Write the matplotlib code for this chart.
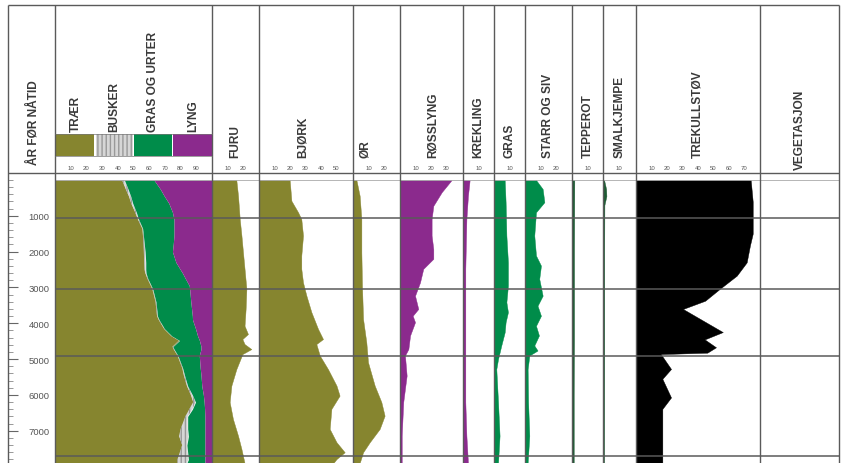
import matplotlib
matplotlib.use("Agg")
import matplotlib.pyplot as plt
import numpy as np
from matplotlib.patches import Rectangle
from matplotlib.ticker import MultipleLocator

plt.rcParams['font.family'] = ['Liberation Sans', 'DejaVu Sans']

# ---- data (prosent av pollensum, alder i år før nåtid) ----
alder_komp = [0, 250, 450, 650, 900, 1100, 1350, 1550, 1800, 2000, 2300, 2500, 2600, 2750,
              2950, 3050, 3400, 3800, 3900, 4150, 4350, 4480, 4650, 4720, 4900, 5250, 5450,
              5750, 6000, 6200, 6400, 6600, 6950, 7150, 7400, 7800, 7900]
traer = [42.7, 45, 47, 48.5, 51, 52.8, 55.5, 56, 56.4, 56.6, 56.8, 57, 57.5, 58.8,
         61, 62, 64, 65, 66, 69.4, 74, 79, 74.8, 75.5, 78, 81, 82,
         84, 86.5, 88, 85.5, 83, 80, 79, 81, 78, 78]
busker = [1.5, 1.5, 1.2, 1, 0.8, 0.5, 0.3, 0.3, 0.5, 0.8, 1, 0.8, 0.5, 0.3,
          0.3, 0.3, 0.3, 0.3, 0.3, 0.3, 0.3, 0.3, 0.3, 0.3, 0.3, 0.3, 0.5,
          0.5, 1, 1.5, 2, 1.5, 4.5, 6, 3, 7, 6]
gras_urter = [18.8, 20.5, 21.4, 23, 23, 22.5, 20, 19.5, 18.4, 17.4, 19.2, 22, 23.2, 23.9,
              24.2, 23.5, 22.2, 22.2, 21.3, 19.8, 16.5, 12.7, 17.9, 17.2, 13.6, 11.2, 10.5,
              9, 7, 5.5, 7.8, 11, 11, 10.5, 11.5, 10.5, 11.5]
lyng = [37, 33, 30.4, 27.5, 25.2, 24.2, 24.2, 24.2, 24.7, 25.2, 23, 20.2, 18.8, 17,
        14.5, 14.2, 13.5, 12.5, 12.4, 10.5, 9.2, 8, 7, 7, 8.1, 7.5, 7,
        6.5, 5.5, 5, 4.7, 4.5, 4.5, 4.5, 4.5, 4.5, 4.5]

furu_alder = [0, 440, 1090, 1550, 2020, 2480, 3040, 3600, 4070, 4300, 4440, 4580, 4720,
              4860, 5280, 5740, 6200, 6670, 7140, 7510, 7900]
furu = [15.7, 16.8, 17.9, 19, 20, 21, 22.2, 21.7, 21, 23.2, 19.6, 21, 25.4,
        19.6, 15.7, 12.5, 11.4, 13.5, 16.8, 19, 21]

bjork_alder = [0, 580, 900, 1090, 1550, 2110, 2480, 2860, 3230, 3690, 4160, 4440, 4580,
               4900, 5280, 5740, 6020, 6390, 6950, 7320, 7600, 7790, 7900]
bjork = [19.8, 20.9, 25.2, 27.3, 28.4, 27.3, 27.3, 28.4, 30.6, 33.8, 38.1, 41.3, 37,
         39.2, 44.5, 50, 52, 46.7, 45.6, 50, 55.3, 50, 48]

or_alder = [0, 440, 1090, 2020, 2950, 3880, 4530, 5090, 5740, 6200, 6580, 6950, 7320, 7600, 7900]
or_verdi = [2.2, 4.3, 5.4, 5.4, 5.8, 6.5, 8.6, 9.7, 14, 18.3, 20.4, 17.2, 10.8, 6.5, 4.3]

rosslyng_alder = [0, 340, 720, 1090, 1550, 1930, 2200, 2480, 2860, 3230, 3600, 3790, 3970,
                  4340, 4720, 4900, 5460, 6200, 7140, 7900]
rosslyng = [33.3, 26.9, 21.5, 20.4, 20.4, 21.5, 21.5, 15, 12.9, 9.7, 11.8, 8.2, 9.7,
            6.5, 5.4, 3.2, 4.3, 2.1, 1.1, 1.1]

krekling_alder = [0, 440, 1090, 2480, 6200, 7140, 7900]
krekling = [4.3, 3.2, 2.2, 1.5, 1.5, 2.2, 3.2]

gras_alder = [0, 620, 1550, 2300, 2950, 3410, 3690, 3970, 4250, 4620, 5000, 5280, 6200, 7140, 7900]
gras = [6.9, 7.5, 8, 9, 9, 8, 9, 7.5, 6.9, 4.7, 2.6, 1.5, 2.6, 3.6, 2.6]

starr_alder = [0, 250, 620, 900, 1550, 2110, 2390, 2760, 3230, 3510, 3790, 4070, 4340,
               4620, 4760, 4900, 5280, 6200, 7140, 7900]
starr = [7.1, 11.4, 12.5, 7.1, 6, 7.1, 10.3, 9.2, 11.4, 8.1, 10.3, 7.1, 9,
         6, 8.1, 2.8, 1.7, 2, 2.8, 1.7]

tepperot_alder = [0, 2000, 4500, 6000, 7900]
tepperot = [1.5, 1.3, 1.3, 1.1, 1.1]

smalkjempe_alder = [0, 250, 450, 700, 2000, 5000, 7900]
smalkjempe = [0.7, 2.0, 2.2, 0.9, 0.8, 0.8, 0.7]

trekull_alder = [0, 600, 1500, 1830, 2300, 2670, 3040, 3370, 3600, 4245, 4450, 4670, 4820,
                 4860, 5275, 5550, 6070, 6390, 7900]
trekull = [74, 75.3, 75.3, 73.5, 71.4, 65, 54, 44.6, 30.3, 56, 44.3, 51.6, 46,
           16, 22.6, 17, 22.6, 17, 17]

sone_grenser = [1070, 3045, 4905, 7695]
alder_ticks = [1000, 2000, 3000, 4000, 5000, 6000, 7000]

overskrifter = ['ÅR FØR NÅTID', 'TRÆR', 'BUSKER', 'GRAS OG URTER', 'LYNG', 'FURU', 'BJØRK',
                'ØR', 'RØSSLYNG', 'KREKLING', 'GRAS', 'STARR OG SIV', 'TEPPEROT',
                'SMALKJEMPE', 'TREKULLSTØV', 'VEGETASJON']

# ---- layout (pixels) ----
W, H = 841, 464
TOP, HEAD_BOT, DATA_TOP = 6, 174, 181
cols = [8, 55, 212, 259, 353, 400, 463, 494, 525, 572, 603, 636, 760, 839]
PX_PER_PCT = 1.55
AGE_MAX = 7900

OLIVE = '#86852f'
GREEN = '#008c4a'
PURPLE = '#8b2a8d'
LINE = '#5a5a5a'

fig = plt.figure(figsize=(W / 100, H / 100), dpi=100)


def px_axes(x0, x1, y0, y1):
    return fig.add_axes([x0 / W, 1 - y1 / H, (x1 - x0) / W, (y1 - y0) / H])


def data_axes(x0, x1, xmax=None, ticks=()):
    ax = px_axes(x0, x1, DATA_TOP, H)
    ax.set_ylim(AGE_MAX, 0)
    ax.set_xlim(0, xmax if xmax else (x1 - x0) / PX_PER_PCT)
    for s in ax.spines.values():
        s.set_visible(False)
    ax.patch.set_alpha(0)
    ax.set_yticks([])
    ax.xaxis.tick_top()
    ax.set_xticks(ticks)
    ax.set_xticklabels([str(t) for t in ticks])
    ax.tick_params(axis='x', length=0, pad=7, labelsize=4.3, labelcolor='#555555')
    for a in sone_grenser:
        ax.axhline(a, color=LINE, lw=1.1, zorder=4)
    ax.axhline(0, color='#aaaaaa', lw=0.6, zorder=4, clip_on=False)
    return ax


# age column
ax_age = px_axes(cols[0], cols[1], DATA_TOP, H)
ax_age.set_ylim(AGE_MAX, 0)
ax_age.set_xlim(0, 1)
ax_age.set_xticks([])
for s in ax_age.spines.values():
    s.set_visible(False)
ax_age.set_yticks(alder_ticks)
ax_age.yaxis.set_minor_locator(MultipleLocator(200))
ax_age.tick_params(axis='y', which='major', direction='in', length=7, width=0.8,
                   color='#666666', labelsize=6.8, labelcolor='#555555', pad=-30)
ax_age.tick_params(axis='y', which='minor', direction='in', length=3.5, width=0.6,
                   color='#888888')

# composite column
ax = data_axes(cols[1], cols[2], xmax=100, ticks=[10, 20, 30, 40, 50, 60, 70, 80, 90])
c1 = np.array(traer)
c2 = c1 + np.array(busker)
c3 = c2 + np.array(gras_urter)
c4 = c3 + np.array(lyng)
ax.fill_betweenx(alder_komp, 0, c1, color=OLIVE, lw=0)
ax.fill_betweenx(alder_komp, c1, c2, facecolor='#d6d6d6', edgecolor='#999999',
                 hatch='||||', lw=0)
ax.fill_betweenx(alder_komp, c2, c3, color=GREEN, lw=0)
ax.fill_betweenx(alder_komp, c3, c4, color=PURPLE, lw=0)

panels = [
    (cols[2], cols[3], furu_alder, furu, OLIVE, [10, 20]),
    (cols[3], cols[4], bjork_alder, bjork, OLIVE, [10, 20, 30, 40, 50]),
    (cols[4], cols[5], or_alder, or_verdi, OLIVE, [10, 20]),
    (cols[5], cols[6], rosslyng_alder, rosslyng, PURPLE, [10, 20, 30]),
    (cols[6], cols[7], krekling_alder, krekling, PURPLE, [10]),
    (cols[7], cols[8], gras_alder, gras, GREEN, [10]),
    (cols[8], cols[9], starr_alder, starr, GREEN, [10, 20]),
    (cols[9], cols[10], tepperot_alder, tepperot, '#1d5a33', [10]),
    (cols[10], cols[11], smalkjempe_alder, smalkjempe, '#1d5a33', [10]),
    (cols[11], cols[12], trekull_alder, trekull, 'black', [10, 20, 30, 40, 50, 60, 70]),
]
for x0, x1, ages, vals, colr, ticks in panels:
    ax = data_axes(x0, x1, ticks=ticks)
    ax.fill_betweenx(ages, 0, vals, color=colr, lw=0.3)

# vegetation column (empty)
data_axes(cols[12], cols[13])

# ---- overlay: frame, header text, legend keys ----
ov = px_axes(0, W, 0, H)
ov.set_xlim(0, W)
ov.set_ylim(H, 0)
ov.axis('off')
ov.set_zorder(10)
ov.patch.set_alpha(0)

ov.vlines(cols, TOP, H, color=LINE, lw=1.0)
ov.hlines([TOP, HEAD_BOT], cols[0], cols[-1], color=LINE, lw=1.0)

legend_keys = [(56, 94, OLIVE, None), (96, 133, '#d6d6d6', '||||'),
               (134, 172, GREEN, None), (173, 212, PURPLE, None)]
for kx0, kx1, kc, kh in legend_keys:
    ov.add_patch(Rectangle((kx0, 135), kx1 - kx0, 22, facecolor=kc,
                           edgecolor='#999999' if kh else kc, hatch=kh, lw=0))
ov.hlines([135, 157], 55, 212, color='#777777', lw=0.5)

head_x = [33, 76, 114, 153, 193, 235, 303, 365, 433, 478, 510, 548, 588, 620, 697, 800]
head_y = [165, 132, 132, 132, 132, 158, 158, 158, 158, 158, 158, 158, 158, 158, 158, 170]
for txt, hx, hy in zip(overskrifter, head_x, head_y):
    ov.text(hx, hy, txt, rotation=90, ha='center', va='bottom', fontsize=8.6,
            fontweight='bold', color='#3a3a3a')

fig.savefig('out.png', dpi=100)
